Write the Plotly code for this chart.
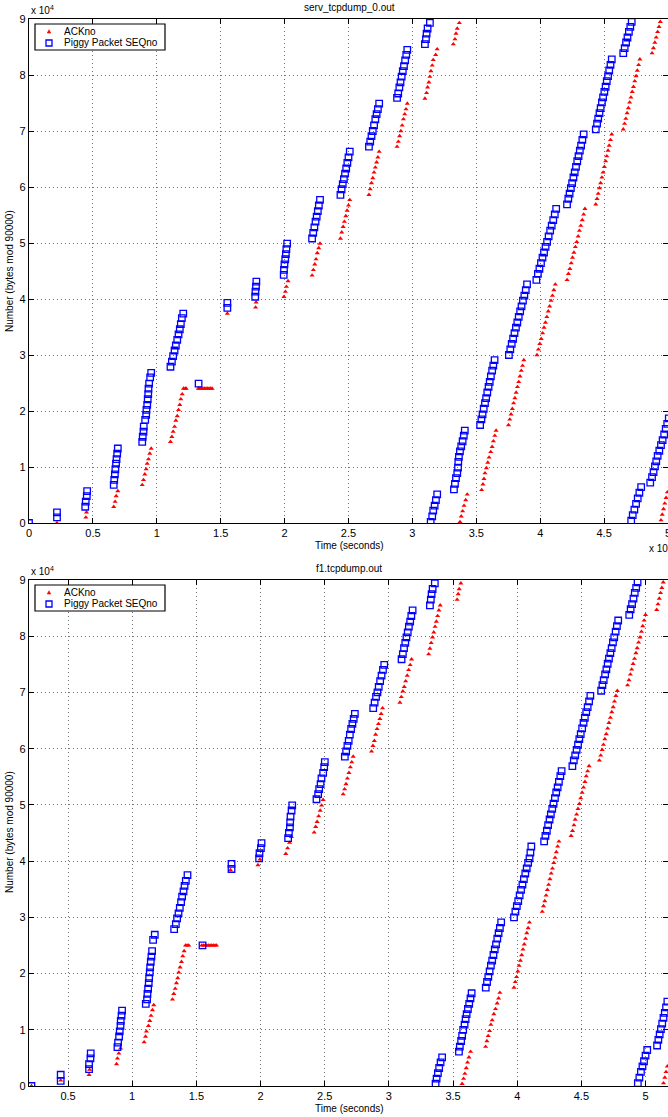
import plotly.graph_objects as go

# ---------------- data (time in units of 1e5, numbers in units of 1e4) -------------
# Top panel: serv_tcpdump_0.out
top_seq_t = [
    0.000,
    0.219, 0.219,
    0.440, 0.444, 0.452, 0.455,
    0.663, 0.667, 0.672, 0.676, 0.681, 0.685, 0.690, 0.695,
    0.886, 0.890, 0.896, 0.898, 0.909, 0.917, 0.919, 0.925, 0.929, 0.933, 0.935, 0.940, 0.948, 0.956,
    1.107, 1.118, 1.128, 1.139, 1.149, 1.160, 1.170, 1.180, 1.188, 1.196, 1.207,
    1.327,
    1.552, 1.552,
    1.770, 1.772, 1.776, 1.779,
    1.993, 1.995, 1.999, 2.005, 2.010, 2.014, 2.020,
    2.215, 2.224, 2.233, 2.242, 2.251, 2.260, 2.268, 2.277,
    2.437, 2.446, 2.455, 2.464, 2.473, 2.482, 2.491, 2.500, 2.510,
    2.660, 2.670, 2.680, 2.690, 2.700, 2.710, 2.720, 2.730, 2.740,
    2.880, 2.889, 2.898, 2.907, 2.916, 2.925, 2.934, 2.943, 2.952, 2.960,
    3.098, 3.106, 3.111, 3.119, 3.137, 3.143, 3.155, 3.163, 3.174, 3.184, 3.194,
    3.325, 3.333, 3.341, 3.351, 3.357, 3.359, 3.364, 3.372, 3.382, 3.393, 3.402, 3.410,
    3.530, 3.540, 3.549, 3.558, 3.568, 3.577, 3.586, 3.596, 3.605, 3.614, 3.624, 3.633, 3.643,
    3.755, 3.766, 3.777, 3.788, 3.799, 3.810, 3.821, 3.832, 3.843, 3.854, 3.865, 3.876, 3.887, 3.897,
    3.970, 3.982, 3.994, 4.006, 4.018, 4.030, 4.042, 4.054, 4.066, 4.078, 4.090, 4.102, 4.114, 4.125,
    4.210, 4.220, 4.230, 4.240, 4.250, 4.260, 4.270, 4.280, 4.290, 4.300, 4.310, 4.320, 4.330, 4.340,
    4.435, 4.445, 4.454, 4.464, 4.473, 4.483, 4.492, 4.502, 4.512, 4.521, 4.531, 4.540, 4.550, 4.560,
    4.650, 4.661, 4.672, 4.683, 4.694, 4.705, 4.716, 4.712, 4.724, 4.737, 4.750, 4.763, 4.776, 4.790,
    4.861, 4.875, 4.887, 4.898, 4.908, 4.919, 4.932, 4.945, 4.958, 4.970, 4.982, 4.994, 5.006,
]
top_seq_v = [
    0.00,
    0.10, 0.19,
    0.29, 0.38, 0.48, 0.57,
    0.68, 0.77, 0.87, 0.96, 1.06, 1.14, 1.24, 1.33,
    1.45, 1.54, 1.63, 1.72, 1.84, 1.93, 2.02, 2.11, 2.21, 2.30, 2.40, 2.49, 2.60, 2.68,
    2.79, 2.88, 2.98, 3.08, 3.17, 3.27, 3.37, 3.46, 3.55, 3.66, 3.74,
    2.49,
    3.84, 3.93,
    4.04, 4.13, 4.22, 4.31,
    4.43, 4.52, 4.62, 4.71, 4.80, 4.89, 4.99,
    5.08, 5.18, 5.28, 5.38, 5.47, 5.57, 5.67, 5.77,
    5.86, 5.96, 6.05, 6.14, 6.24, 6.33, 6.43, 6.53, 6.63,
    6.72, 6.81, 6.91, 7.00, 7.10, 7.21, 7.30, 7.39, 7.49,
    7.59, 7.67, 7.78, 7.87, 7.97, 8.07, 8.16, 8.26, 8.36, 8.45,
    8.55, 8.64, 8.74, 8.83, 8.93, 0.02, 0.12, 0.22, 0.31, 0.41, 0.51,
    0.60, 0.70, 0.80, 0.89, 0.99, 1.09, 1.18, 1.28, 1.37, 1.46, 1.56, 1.65,
    1.75, 1.85, 1.94, 2.04, 2.14, 2.23, 2.33, 2.43, 2.52, 2.62, 2.72, 2.81, 2.91,
    3.00, 3.10, 3.20, 3.29, 3.39, 3.49, 3.58, 3.68, 3.78, 3.87, 3.97, 4.06, 4.16, 4.26,
    4.34, 4.45, 4.54, 4.64, 4.74, 4.83, 4.93, 5.02, 5.12, 5.22, 5.31, 5.41, 5.51, 5.61,
    5.69, 5.79, 5.88, 5.98, 6.07, 6.17, 6.26, 6.36, 6.46, 6.55, 6.65, 6.74, 6.84, 6.94,
    7.03, 7.13, 7.22, 7.32, 7.41, 7.51, 7.60, 7.70, 7.79, 7.89, 7.98, 8.08, 8.18, 8.28,
    8.39, 8.48, 8.58, 8.67, 8.77, 8.86, 8.95, 0.04, 0.14, 0.24, 0.34, 0.44, 0.54, 0.64,
    0.72, 0.82, 0.91, 1.01, 1.10, 1.20, 1.29, 1.39, 1.48, 1.58, 1.68, 1.77, 1.87,
]
top_ack_t = [
    0.219,
    0.445, 0.450,
    0.663, 0.674, 0.682, 0.695,
    0.886, 0.896, 0.906, 0.917, 0.925, 0.935, 0.945, 0.956,
    1.107, 1.118, 1.128, 1.139, 1.149, 1.160, 1.170, 1.180, 1.188, 1.199, 1.209, 1.222, 1.230,
    1.325, 1.337, 1.349, 1.361, 1.373, 1.385, 1.397, 1.409, 1.421, 1.433,
    1.552,
    1.773, 1.777,
    1.995, 2.006, 2.014, 2.027,
    2.215, 2.225, 2.236, 2.246, 2.256, 2.267, 2.277,
    2.437, 2.447, 2.458, 2.468, 2.479, 2.489, 2.500, 2.510,
    2.660, 2.670, 2.680, 2.690, 2.700, 2.710, 2.720, 2.730, 2.740,
    2.880, 2.890, 2.900, 2.910, 2.920, 2.930, 2.940, 2.950, 2.960,
    3.098, 3.111, 3.119, 3.129, 3.137, 3.145, 3.155, 3.163, 3.182, 3.194,
    3.320, 3.333, 3.341, 3.351, 3.367, 3.372, 3.382, 3.393, 3.404, 3.417, 3.429,
    3.542, 3.552, 3.560, 3.568, 3.579, 3.590, 3.600, 3.613, 3.624, 3.634, 3.645, 3.655,
    3.752, 3.762, 3.772, 3.782, 3.792, 3.802, 3.812, 3.822, 3.832, 3.842, 3.852, 3.862, 3.872,
    3.975, 3.986, 3.997, 4.008, 4.019, 4.030, 4.041, 4.052, 4.063, 4.074, 4.085, 4.096, 4.107, 4.118,
    4.210, 4.221, 4.232, 4.243, 4.253, 4.264, 4.275, 4.286, 4.297, 4.307, 4.318, 4.329, 4.340, 4.350,
    4.435, 4.445, 4.454, 4.464, 4.473, 4.483, 4.492, 4.502, 4.512, 4.521, 4.531, 4.540, 4.550, 4.560,
    4.650, 4.660, 4.670, 4.680, 4.690, 4.700, 4.710, 4.720, 4.730, 4.740, 4.750, 4.760, 4.770, 4.780,
    4.875, 4.886, 4.897, 4.908, 4.919, 4.930, 4.940, 4.945, 4.955, 4.965, 4.975, 4.985, 4.995,
]
top_ack_v = [
    0.00,
    0.10, 0.19,
    0.29, 0.38, 0.48, 0.57,
    0.68, 0.77, 0.87, 0.96, 1.06, 1.14, 1.24, 1.33,
    1.45, 1.54, 1.63, 1.72, 1.83, 1.91, 2.02, 2.11, 2.21, 2.30, 2.40, 2.40, 2.40,
    2.40, 2.40, 2.40, 2.40, 2.40, 2.40, 2.40, 2.40, 2.40, 2.40,
    3.74,
    3.85, 3.94,
    4.04, 4.13, 4.22, 4.32,
    4.42, 4.52, 4.62, 4.71, 4.82, 4.91, 4.99,
    5.08, 5.19, 5.29, 5.38, 5.48, 5.58, 5.67, 5.77,
    5.86, 5.96, 6.07, 6.16, 6.26, 6.35, 6.44, 6.53, 6.63,
    6.72, 6.81, 6.91, 7.00, 7.10, 7.21, 7.30, 7.39, 7.49,
    7.58, 7.68, 7.78, 7.87, 7.97, 8.07, 8.17, 8.27, 8.36, 8.46,
    8.55, 8.64, 8.74, 8.83, 8.93, 0.02, 0.12, 0.21, 0.31, 0.41, 0.51,
    0.59, 0.69, 0.79, 0.89, 0.98, 1.08, 1.17, 1.27, 1.36, 1.46, 1.56, 1.65,
    1.75, 1.85, 1.94, 2.04, 2.14, 2.23, 2.33, 2.43, 2.52, 2.62, 2.72, 2.81, 2.91,
    3.00, 3.10, 3.20, 3.29, 3.39, 3.49, 3.58, 3.68, 3.78, 3.87, 3.97, 4.06, 4.16, 4.26,
    4.34, 4.45, 4.54, 4.64, 4.74, 4.83, 4.93, 5.02, 5.12, 5.22, 5.31, 5.41, 5.51, 5.61,
    5.69, 5.79, 5.88, 5.98, 6.07, 6.17, 6.26, 6.36, 6.46, 6.55, 6.65, 6.74, 6.84, 6.94,
    7.03, 7.13, 7.22, 7.32, 7.41, 7.51, 7.60, 7.70, 7.79, 7.89, 7.98, 8.08, 8.18, 8.28,
    8.39, 8.48, 8.58, 8.67, 8.77, 8.86, 8.95, 0.05, 0.15, 0.25, 0.35, 0.45, 0.55,
]

# Bottom panel: f1.tcpdump.out
bot_seq_t = [
    0.215,
    0.443, 0.443,
    0.664, 0.664, 0.675, 0.677,
    0.885, 0.890, 0.898, 0.903, 0.909, 0.911, 0.917, 0.921,
    1.106, 1.116, 1.119, 1.124, 1.129, 1.132, 1.137, 1.140, 1.145, 1.150, 1.155, 1.163, 1.176,
    1.327, 1.340, 1.350, 1.361, 1.371, 1.381, 1.389, 1.400, 1.408, 1.418, 1.431,
    1.548,
    1.774, 1.774,
    1.989, 1.992, 2.003, 2.008,
    2.215, 2.221, 2.229, 2.231, 2.234, 2.242, 2.247,
    2.436, 2.449, 2.457, 2.468, 2.475, 2.488, 2.496, 2.501,
    2.657, 2.667, 2.677, 2.687, 2.696, 2.706, 2.716, 2.726, 2.735,
    2.878, 2.889, 2.900, 2.911, 2.921, 2.932, 2.943, 2.954, 2.964,
    3.099, 3.109, 3.118, 3.128, 3.137, 3.147, 3.156, 3.166, 3.175, 3.185,
    3.320, 3.327, 3.333, 3.341, 3.358, 3.364, 3.372, 3.382, 3.392, 3.403, 3.415,
    3.546, 3.553, 3.563, 3.571, 3.579, 3.590, 3.598, 3.606, 3.616, 3.626, 3.636, 3.645,
    3.755, 3.765, 3.775, 3.785, 3.795, 3.805, 3.815, 3.825, 3.835, 3.845, 3.855, 3.865, 3.875,
    3.975, 3.986, 3.997, 4.008, 4.019, 4.030, 4.041, 4.052, 4.063, 4.074, 4.085, 4.096, 4.103, 4.110,
    4.210, 4.220, 4.231, 4.241, 4.252, 4.262, 4.273, 4.283, 4.294, 4.304, 4.315, 4.325, 4.336, 4.346,
    4.430, 4.441, 4.452, 4.463, 4.474, 4.484, 4.495, 4.506, 4.517, 4.527, 4.538, 4.549, 4.560, 4.570,
    4.654, 4.664, 4.674, 4.685, 4.695, 4.705, 4.715, 4.726, 4.736, 4.746, 4.756, 4.767, 4.777, 4.787,
    4.873, 4.884, 4.895, 4.906, 4.916, 4.927, 4.938, 4.940, 4.952, 4.964, 4.976, 4.988, 5.000, 5.013,
    5.090, 5.100, 5.110, 5.120, 5.130, 5.140, 5.150, 5.160, 5.170,
]
bot_seq_v = [
    0.00,
    0.09, 0.20,
    0.30, 0.39, 0.49, 0.58,
    0.69, 0.77, 0.88, 0.97, 1.07, 1.16, 1.25, 1.34,
    1.46, 1.54, 1.64, 1.73, 1.83, 1.92, 2.02, 2.11, 2.21, 2.30, 2.40, 2.60, 2.69,
    2.79, 2.88, 2.98, 3.07, 3.17, 3.27, 3.37, 3.46, 3.56, 3.65, 3.75,
    2.50,
    3.86, 3.95,
    4.05, 4.14, 4.23, 4.32,
    4.41, 4.50, 4.60, 4.69, 4.79, 4.90, 4.99,
    5.10, 5.19, 5.28, 5.37, 5.47, 5.57, 5.67, 5.76,
    5.86, 5.95, 6.05, 6.14, 6.25, 6.35, 6.44, 6.53, 6.62,
    6.72, 6.82, 6.92, 7.00, 7.10, 7.20, 7.30, 7.40, 7.49,
    7.59, 7.68, 7.79, 7.88, 7.98, 8.07, 8.17, 8.26, 8.36, 8.46,
    8.55, 8.65, 8.75, 8.84, 8.94, 0.04, 0.13, 0.23, 0.32, 0.42, 0.51,
    0.61, 0.70, 0.80, 0.89, 1.00, 1.09, 1.19, 1.28, 1.37, 1.46, 1.56, 1.65,
    1.75, 1.85, 1.94, 2.04, 2.14, 2.23, 2.33, 2.43, 2.52, 2.62, 2.72, 2.81, 2.91,
    3.00, 3.10, 3.20, 3.29, 3.39, 3.49, 3.58, 3.68, 3.78, 3.87, 3.97, 4.05, 4.15, 4.26,
    4.35, 4.45, 4.54, 4.64, 4.74, 4.83, 4.93, 5.02, 5.12, 5.22, 5.31, 5.41, 5.51, 5.60,
    5.69, 5.79, 5.88, 5.98, 6.07, 6.17, 6.26, 6.36, 6.46, 6.55, 6.65, 6.74, 6.84, 6.94,
    7.03, 7.13, 7.22, 7.32, 7.41, 7.51, 7.60, 7.70, 7.79, 7.89, 7.98, 8.08, 8.18, 8.28,
    8.38, 8.48, 8.57, 8.67, 8.77, 8.86, 8.96, 0.05, 0.15, 0.25, 0.35, 0.44, 0.54, 0.64,
    0.72, 0.82, 0.92, 1.01, 1.11, 1.21, 1.30, 1.40, 1.50,
]
bot_ack_t = [
    0.215,
    0.443,
    0.664, 0.668,
    0.878, 0.885, 0.896, 0.909,
    1.093, 1.104, 1.111, 1.127, 1.137, 1.147, 1.158, 1.168,
    1.314, 1.324, 1.335, 1.345, 1.355, 1.363, 1.373, 1.384, 1.394, 1.405, 1.416, 1.428, 1.441,
    1.542, 1.555, 1.568, 1.581, 1.594, 1.607, 1.620, 1.633, 1.646, 1.657,
    1.766,
    1.980, 1.995,
    2.197, 2.211, 2.226, 2.241,
    2.418, 2.430, 2.441, 2.453, 2.465, 2.476, 2.488,
    2.644, 2.655, 2.666, 2.677, 2.689, 2.700, 2.711, 2.722,
    2.865, 2.876, 2.887, 2.897, 2.908, 2.919, 2.930, 2.940, 2.951,
    3.086, 3.097, 3.109, 3.120, 3.131, 3.143, 3.154, 3.166, 3.177,
    3.310, 3.320, 3.330, 3.340, 3.350, 3.360, 3.370, 3.380, 3.390, 3.400,
    3.532, 3.540, 3.548, 3.561, 3.571, 3.582, 3.592, 3.603, 3.613, 3.624, 3.637,
    3.754, 3.764, 3.774, 3.785, 3.795, 3.805, 3.818, 3.831, 3.844, 3.855, 3.865,
    3.975, 3.985, 3.995, 4.005, 4.015, 4.025, 4.035, 4.045, 4.055, 4.065, 4.075, 4.085, 4.095,
    4.195, 4.205, 4.215, 4.225, 4.235, 4.245, 4.255, 4.265, 4.275, 4.285, 4.295, 4.305, 4.315, 4.325,
    4.420, 4.431, 4.442, 4.452, 4.463, 4.474, 4.485, 4.495, 4.506, 4.517, 4.528, 4.538, 4.549, 4.560,
    4.640, 4.651, 4.662, 4.672, 4.683, 4.694, 4.705, 4.715, 4.726, 4.737, 4.748, 4.758, 4.769, 4.780,
    4.860, 4.871, 4.882, 4.892, 4.903, 4.914, 4.925, 4.935, 4.946, 4.957, 4.968, 4.978, 4.989, 5.000,
    5.087, 5.097, 5.107, 5.117, 5.127, 5.138,
    5.140, 5.150, 5.160, 5.170,
]
bot_ack_v = [
    0.00,
    0.10,
    0.20, 0.29,
    0.39, 0.49, 0.58, 0.67,
    0.78, 0.88, 0.97, 1.07, 1.16, 1.25, 1.35, 1.44,
    1.54, 1.64, 1.73, 1.83, 1.92, 2.02, 2.11, 2.21, 2.31, 2.40, 2.50, 2.50, 2.50,
    2.50, 2.50, 2.50, 2.50, 2.50, 2.50, 2.50, 2.50, 2.50, 2.50,
    3.84,
    3.93, 4.03,
    4.13, 4.23, 4.33, 4.43,
    4.51, 4.61, 4.70, 4.80, 4.90, 4.99, 5.09,
    5.19, 5.28, 5.37, 5.47, 5.57, 5.67, 5.76, 5.86,
    5.95, 6.05, 6.14, 6.25, 6.35, 6.44, 6.53, 6.62, 6.72,
    6.82, 6.92, 7.02, 7.10, 7.20, 7.30, 7.40, 7.49, 7.59,
    7.68, 7.78, 7.88, 7.98, 8.07, 8.17, 8.26, 8.36, 8.46, 8.55,
    8.65, 8.75, 8.84, 8.94, 0.04, 0.13, 0.22, 0.32, 0.42, 0.51, 0.61,
    0.70, 0.80, 0.89, 0.98, 1.09, 1.17, 1.28, 1.37, 1.47, 1.56, 1.66,
    1.75, 1.85, 1.94, 2.04, 2.14, 2.23, 2.33, 2.43, 2.52, 2.62, 2.72, 2.81, 2.91,
    3.10, 3.20, 3.29, 3.39, 3.49, 3.58, 3.68, 3.78, 3.87, 3.97, 4.06, 4.16, 4.26, 4.35,
    4.45, 4.54, 4.64, 4.74, 4.83, 4.93, 5.02, 5.12, 5.22, 5.31, 5.41, 5.51, 5.60, 5.69,
    5.79, 5.88, 5.98, 6.07, 6.17, 6.26, 6.36, 6.46, 6.55, 6.65, 6.74, 6.84, 6.94, 7.03,
    7.13, 7.22, 7.32, 7.41, 7.51, 7.60, 7.70, 7.79, 7.89, 7.98, 8.08, 8.18, 8.28, 8.38,
    8.47, 8.57, 8.67, 8.77, 8.86, 8.96,
    0.05, 0.15, 0.25, 0.35,
]

titles = ["serv_tcpdump_0.out", "f1.tcpdump.out"]
series_names = ["ACKno", "Piggy Packet SEQno"]
x_label = "Time (seconds)"
y_label = "Number (bytes mod 90000)"
x_ticks_top = [0, 0.5, 1, 1.5, 2, 2.5, 3, 3.5, 4, 4.5, 5]
x_ticks_bot = [0.5, 1, 1.5, 2, 2.5, 3, 3.5, 4, 4.5, 5]
y_ticks = [0, 1, 2, 3, 4, 5, 6, 7, 8, 9]

# ---------------- layout helpers (pixel geometry) ----------------
W, H = 668, 1117
FONT = "Liberation Sans, Arial, Helvetica, sans-serif"


def px(x):
    return x / W


def py(y):
    return 1 - y / H


RED = "#ff0000"
BLUE = "#0000ff"

fig = go.Figure()

panels = [
    dict(seq_t=top_seq_t, seq_v=top_seq_v, ack_t=top_ack_t, ack_v=top_ack_v,
         xa="x", ya="y", top=19, bottom=523, xrange=[0, 5.0], xticks=x_ticks_top,
         xlabel_y=545.5),
    dict(seq_t=bot_seq_t, seq_v=bot_seq_v, ack_t=bot_ack_t, ack_v=bot_ack_v,
         xa="x2", ya="y2", top=580, bottom=1086, xrange=[0.196, 5.175], xticks=x_ticks_bot,
         xlabel_y=1108.5),
]

for p in panels:
    fig.add_trace(go.Scatter(
        x=p["ack_t"], y=p["ack_v"], mode="markers", name=series_names[0],
        xaxis=p["xa"], yaxis=p["ya"], showlegend=False, hoverinfo="skip",
        marker=dict(symbol="triangle-up", size=4.5, color=RED, line=dict(width=0)),
    ))
    fig.add_trace(go.Scatter(
        x=p["seq_t"], y=p["seq_v"], mode="markers", name=series_names[1],
        xaxis=p["xa"], yaxis=p["ya"], showlegend=False, hoverinfo="skip",
        marker=dict(symbol="square-open", size=6.5, color=BLUE, line=dict(width=1.3, color=BLUE)),
    ))

axis_common = dict(
    showline=True, linecolor="black", linewidth=1.2, mirror="ticks",
    ticks="inside", ticklen=5, tickwidth=1, tickcolor="black",
    showgrid=True, gridcolor="#707070", griddash="1px,3px", gridwidth=1,
    zeroline=False, automargin=False, ticklabeloverflow="allow",
    tickfont=dict(family=FONT, size=11, color="black"),
)

layout_axes = {}
for i, p in enumerate(panels):
    sfx = "" if i == 0 else "2"
    ydom = [py(p["bottom"]), py(p["top"])]
    layout_axes["xaxis" + sfx] = dict(
        axis_common, domain=[px(29), 1.0], range=p["xrange"], anchor="y" + sfx,
        tickmode="array", tickvals=p["xticks"], ticktext=[f"{v:g}" for v in p["xticks"]],
    )
    layout_axes["yaxis" + sfx] = dict(
        axis_common, domain=ydom, range=[0, 9], anchor="x" + sfx,
        tickmode="array", tickvals=y_ticks, ticktext=[str(v) for v in y_ticks],
    )

annotations = []
shapes = []
for i, p in enumerate(panels):
    off = p["top"] - 19
    fsz = 10
    annotations += [
        dict(text=titles[i], x=px(349), y=py(7.5 + off), xref="paper", yref="paper",
             showarrow=False, xanchor="center", yanchor="middle",
             font=dict(family=FONT, size=fsz, color="black")),
        dict(text=x_label, x=px(349), y=py(p["xlabel_y"]), xref="paper", yref="paper",
             showarrow=False, xanchor="center", yanchor="middle",
             font=dict(family=FONT, size=fsz, color="black")),
        dict(text=y_label, x=px(9), y=py(271 + off), xref="paper", yref="paper",
             showarrow=False, xanchor="center", yanchor="middle", textangle=-90,
             font=dict(family=FONT, size=fsz, color="black")),
        dict(text="x 10<sup>4</sup>", x=px(29), y=py(10 + off), xref="paper", yref="paper",
             showarrow=False, xanchor="left", yanchor="middle",
             font=dict(family=FONT, size=fsz, color="black")),
    ]
    if i == 0:
        annotations.append(
            dict(text="x 10<sup>5</sup>", x=px(647), y=py(548 + off), xref="paper", yref="paper",
                 showarrow=False, xanchor="left", yanchor="middle",
                 font=dict(family=FONT, size=fsz, color="black")))
    # legend box
    shapes.append(dict(type="rect", xref="paper", yref="paper",
                       x0=px(35), x1=px(165), y0=py(24 + off), y1=py(50 + off),
                       line=dict(color="black", width=1.2), fillcolor="white", layer="above"))
    # legend symbols
    cy1, cy2 = 31.5 + off, 43 + off
    shapes.append(dict(type="path", xref="paper", yref="paper", layer="above",
                       path=f"M {px(47.2)} {py(cy1 + 1.6)} L {px(50.8)} {py(cy1 + 1.6)} L {px(49)} {py(cy1 - 1.8)} Z",
                       fillcolor=RED, line=dict(color=RED, width=0.5)))
    shapes.append(dict(type="rect", xref="paper", yref="paper", layer="above",
                       x0=px(46), x1=px(52), y0=py(cy2 + 3), y1=py(cy2 - 3),
                       line=dict(color=BLUE, width=1.3)))
    annotations += [
        dict(text=series_names[0], x=px(62), y=py(cy1), xref="paper", yref="paper",
             showarrow=False, xanchor="left", yanchor="middle",
             font=dict(family=FONT, size=fsz, color="black")),
        dict(text=series_names[1], x=px(62), y=py(cy2), xref="paper", yref="paper",
             showarrow=False, xanchor="left", yanchor="middle",
             font=dict(family=FONT, size=fsz, color="black")),
    ]

fig.update_layout(
    width=W, height=H, margin=dict(l=0, r=0, t=0, b=0),
    paper_bgcolor="white", plot_bgcolor="white", showlegend=False,
    annotations=annotations, shapes=shapes, **layout_axes,
)

fig.write_html(
    "out.html",
    config={"displayModeBar": False},
    post_script="document.body.style.margin='0';document.body.style.overflow='hidden';",
)
